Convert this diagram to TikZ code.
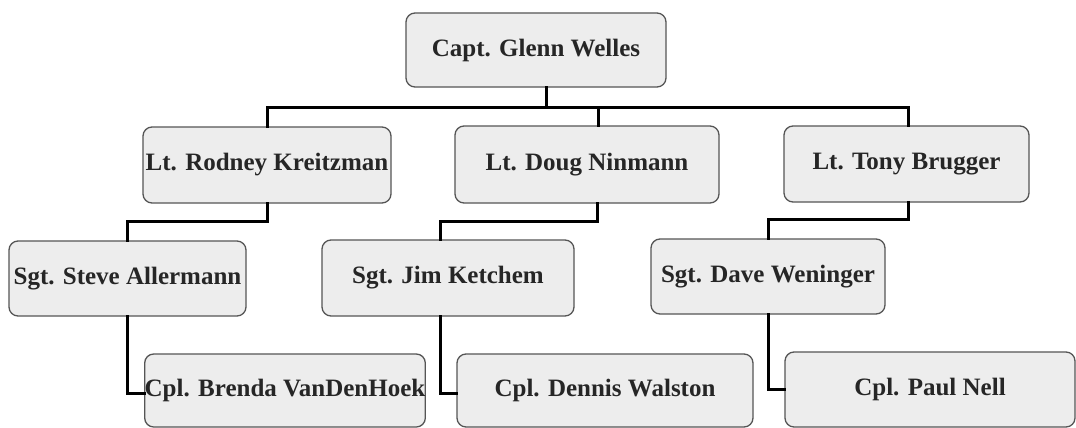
\documentclass[tikz,border=0pt]{standalone}
\usepackage{fontspec}
\setmainfont{Liberation Serif}
\definecolor{boxfill}{HTML}{EDEDED}
\definecolor{boxline}{HTML}{555555}
\definecolor{txt}{HTML}{262626}
\tikzset{
  person/.style={draw=boxline, line width=1.3pt, fill=boxfill, rounded corners=9pt,
    inner sep=0pt, text=txt, font=\fontsize{25}{28}\selectfont\bfseries},
  conn/.style={line width=3pt, black, line cap=rect}
}
\begin{document}
\begin{tikzpicture}[x=1pt,y=-1pt]
\useasboundingbox (0,0) rectangle (1076,428);
% level 1
\node[person, minimum width=260pt, minimum height=74pt] (top) at (536,50) {Capt. Glenn Welles};
% level 2
\node[person, minimum width=248pt, minimum height=76pt] (rod) at (267,165) {Lt. Rodney Kreitzman};
\node[person, minimum width=264pt, minimum height=77pt] (doug) at (587,164.5) {Lt. Doug Ninmann};
\node[person, minimum width=245pt, minimum height=76pt] (tony) at (906.5,164) {Lt. Tony Brugger};
% level 3
\node[person, minimum width=237pt, minimum height=75pt] (steve) at (127.5,278.5) {Sgt. Steve Allermann};
\node[person, minimum width=252pt, minimum height=76pt] (jim) at (448,278) {Sgt. Jim Ketchem};
\node[person, minimum width=234pt, minimum height=75pt] (dave) at (768,276.5) {Sgt. Dave Weninger};
% level 4
\node[person, minimum width=280pt, minimum height=73pt] (brenda) at (285,390.5) {Cpl. Brenda VanDenHoek};
\node[person, minimum width=296pt, minimum height=73pt] (dennis) at (605,390.5) {Cpl. Dennis Walston};
\node[person, minimum width=290pt, minimum height=75pt] (paul) at (930,389.5) {Cpl. Paul Nell};
% connectors level 1 -> 2
\coordinate (bus) at ([xshift=10pt]top.south |- 0,107);
\draw[conn] ([xshift=10pt]top.south) -- (bus);
\draw[conn] (bus) -| (rod.north);
\draw[conn] (bus) -| ([xshift=11pt]doug.north);
\draw[conn] (bus) -| ([xshift=1.5pt]tony.north);
% connectors level 2 -> 3
\draw[conn] (rod.south) -- ++(0,18) -| (steve.north);
\draw[conn] ([xshift=10pt]doug.south) -- ++(0,18) -| ([xshift=-8pt]jim.north);
\draw[conn] ([xshift=1.5pt]tony.south) -- ++(0,17) -| (dave.north);
% connectors level 3 -> 4
\draw[conn] (steve.south) |- ([yshift=-3pt]brenda.west);
\draw[conn] ([xshift=-8pt]jim.south) |- ([yshift=-3pt]dennis.west);
\draw[conn] (dave.south) |- (paul.west);
\end{tikzpicture}
\end{document}
